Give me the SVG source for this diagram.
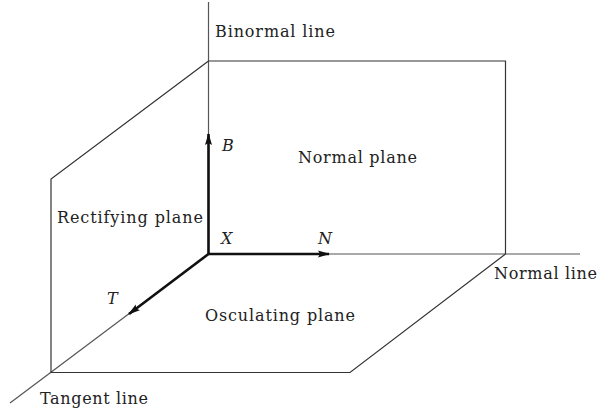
<svg xmlns="http://www.w3.org/2000/svg" width="600" height="413" viewBox="0 0 600 413">
<defs>
<style>
.ln{fill:none;stroke:#333;stroke-width:1.2}
.ax{fill:none;stroke:#555;stroke-width:1.2}
.vec{fill:none;stroke:#111;stroke-width:2.6}
.t{font-family:'DejaVu Serif',serif;font-size:16px;fill:#222}
.it{font-style:italic}
</style>
<marker id="ahb" viewBox="0 0 12 8" refX="11" refY="4" markerWidth="12" markerHeight="8" orient="auto" markerUnits="userSpaceOnUse">
<path d="M0,0.5 L12,4 L0,7.5 L2,4 Z" fill="#111"/>
</marker>
</defs>
<g id="connectors">
<line class="ax" x1="208.5" y1="2" x2="208.5" y2="255"/>
<line class="ax" x1="208.5" y1="254" x2="580" y2="254"/>
<line class="ax" x1="208.5" y1="254" x2="10" y2="403"/>
<polyline class="ln" points="208.5,61 505.5,61 505.5,254"/>
<polyline class="ln" points="208.5,61 51,179 51,372.5 350,372.5 505.5,254"/>
<line class="vec" x1="208.5" y1="254" x2="208.5" y2="134" marker-end="url(#ahb)"/>
<line class="vec" x1="208.5" y1="254" x2="329" y2="254" marker-end="url(#ahb)"/>
<line class="vec" x1="208.5" y1="254" x2="129" y2="314" marker-end="url(#ahb)"/>
</g>
<g id="binormal-line"><text class="t" x="215" y="37" textLength="120">Binormal line</text></g>
<g id="normal-plane"><text class="t" x="298" y="163" textLength="119">Normal plane</text></g>
<g id="rectifying-plane"><text class="t" x="57" y="223" textLength="146">Rectifying plane</text></g>
<g id="normal-line"><text class="t" x="494" y="279" textLength="103">Normal line</text></g>
<g id="osculating-plane"><text class="t" x="205" y="321" textLength="150">Osculating plane</text></g>
<g id="tangent-line"><text class="t" x="40" y="404" textLength="108">Tangent line</text></g>
<g id="B"><text class="t it" x="222" y="151">B</text></g>
<g id="X"><text class="t it" x="221" y="244">X</text></g>
<g id="N"><text class="t it" x="318" y="244">N</text></g>
<g id="T"><text class="t it" x="107" y="304">T</text></g>
</svg>
